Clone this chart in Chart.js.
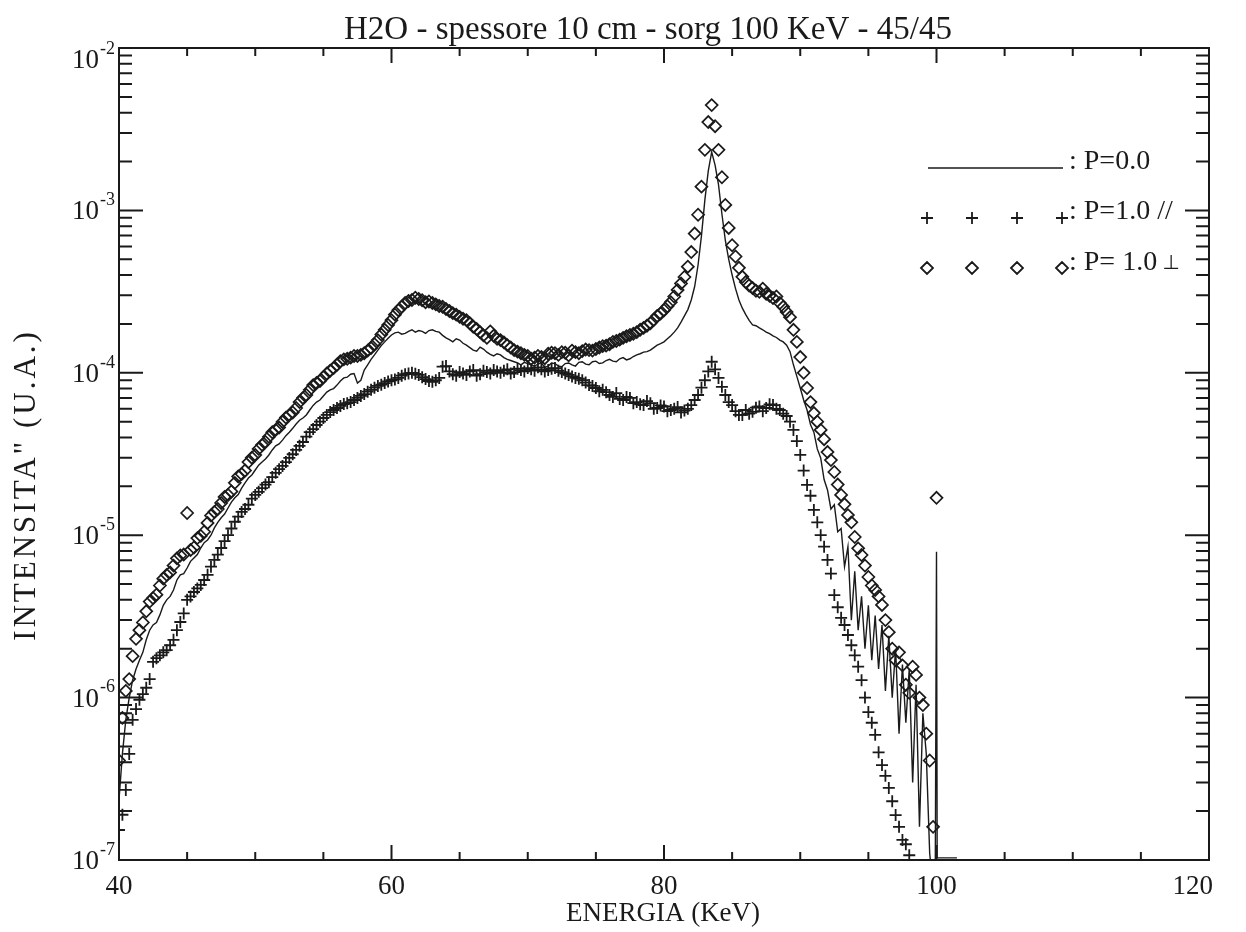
<!DOCTYPE html>
<html><head><meta charset="utf-8">
<script src="https://cdn.jsdelivr.net/npm/chart.js@4/dist/chart.umd.min.js"></script>
<style>html,body{margin:0;padding:0;background:#fff;}#wrap{width:1246px;height:932px;position:relative;}</style>
</head><body><div id="wrap"><canvas id="c" width="1246" height="932"></canvas></div>
<script>
// ---- DATA (energy in KeV, intensity in U.A.) ----
const energies = [
40,40.25,40.5,40.75,41,41.25,41.5,41.75,42,42.25,42.5,42.75,43,43.25,43.5,43.75,44,44.25,44.5,44.75,
45,45.25,45.5,45.75,46,46.25,46.5,46.75,47,47.25,47.5,47.75,48,48.25,48.5,48.75,49,49.25,49.5,49.75,
50,50.25,50.5,50.75,51,51.25,51.5,51.75,52,52.25,52.5,52.75,53,53.25,53.5,53.75,54,54.25,54.5,54.75,
55,55.25,55.5,55.75,56,56.25,56.5,56.75,57,57.25,57.5,57.75,58,58.25,58.5,58.75,59,59.25,59.5,59.75,
60,60.25,60.5,60.75,61,61.25,61.5,61.75,62,62.25,62.5,62.75,63,63.25,63.5,63.75,64,64.25,64.5,64.75,
65,65.25,65.5,65.75,66,66.25,66.5,66.75,67,67.25,67.5,67.75,68,68.25,68.5,68.75,69,69.25,69.5,69.75,
70,70.25,70.5,70.75,71,71.25,71.5,71.75,72,72.25,72.5,72.75,73,73.25,73.5,73.75,74,74.25,74.5,74.75,
75,75.25,75.5,75.75,76,76.25,76.5,76.75,77,77.25,77.5,77.75,78,78.25,78.5,78.75,79,79.25,79.5,79.75,
80,80.25,80.5,80.75,81,81.25,81.5,81.75,82,82.25,82.5,82.75,83,83.25,83.5,83.75,84,84.25,84.5,84.75,
85,85.25,85.5,85.75,86,86.25,86.5,86.75,87,87.25,87.5,87.75,88,88.25,88.5,88.75,89,89.25,89.5,89.75,
90,90.25,90.5,90.75,91,91.25,91.5,91.75,92,92.25,92.5,92.75,93,93.25,93.5,93.75,94,94.25,94.5,94.75,
95,95.25,95.5,95.75,96,96.25,96.5,96.75,97,97.25,97.5,97.75,98,98.25,98.5,98.75,99,99.25,99.5,99.75,
100];

// P=1.0 perpendicular (diamonds)
const intensityPerp = [
4.1e-7,7.5e-7,1.1e-6,1.3e-6,1.8e-6,2.3e-6,2.6e-6,2.9e-6,3.4e-6,3.9e-6,4.1e-6,4.3e-6,4.9e-6,5.4e-6,5.7e-6,5.9e-6,6.5e-6,7.2e-6,7.5e-6,7.6e-6,
1.37e-5,8.1e-6,8.4e-6,9.6e-6,9.9e-6,1.05e-5,1.19e-5,1.32e-5,1.39e-5,1.45e-5,1.58e-5,1.72e-5,1.77e-5,1.86e-5,2.1e-5,2.3e-5,2.38e-5,2.5e-5,2.82e-5,3.0e-5,
3.12e-5,3.4e-5,3.6e-5,3.75e-5,4.03e-5,4.3e-5,4.45e-5,4.6e-5,4.98e-5,5.3e-5,5.5e-5,5.7e-5,6.07e-5,6.6e-5,7.0e-5,7.3e-5,7.85e-5,8.4e-5,8.65e-5,8.9e-5,
9.4e-5,9.9e-5,1.03e-4,1.07e-4,1.12e-4,1.18e-4,1.21e-4,1.22e-4,1.24e-4,1.27e-4,1.27e-4,1.29e-4,1.32e-4,1.37e-4,1.42e-4,1.50e-4,1.59e-4,1.72e-4,1.84e-4,1.97e-4,
2.11e-4,2.28e-4,2.43e-4,2.55e-4,2.69e-4,2.77e-4,2.81e-4,2.90e-4,2.85e-4,2.80e-4,2.72e-4,2.75e-4,2.69e-4,2.64e-4,2.58e-4,2.55e-4,2.47e-4,2.40e-4,2.33e-4,2.28e-4,
2.21e-4,2.15e-4,2.11e-4,2.02e-4,1.92e-4,1.86e-4,1.78e-4,1.70e-4,1.64e-4,1.80e-4,1.69e-4,1.62e-4,1.59e-4,1.54e-4,1.48e-4,1.43e-4,1.38e-4,1.35e-4,1.32e-4,1.29e-4,
1.27e-4,1.22e-4,1.24e-4,1.27e-4,1.25e-4,1.23e-4,1.31e-4,1.33e-4,1.32e-4,1.29e-4,1.34e-4,1.33e-4,1.28e-4,1.37e-4,1.34e-4,1.32e-4,1.36e-4,1.39e-4,1.38e-4,1.37e-4,
1.40e-4,1.43e-4,1.46e-4,1.47e-4,1.50e-4,1.55e-4,1.57e-4,1.60e-4,1.64e-4,1.68e-4,1.71e-4,1.74e-4,1.78e-4,1.84e-4,1.89e-4,1.95e-4,2.02e-4,2.12e-4,2.24e-4,2.32e-4,
2.43e-4,2.57e-4,2.72e-4,2.95e-4,3.24e-4,3.55e-4,3.89e-4,4.5e-4,5.54e-4,7.2e-4,9.4e-4,1.4e-3,2.36e-3,3.5e-3,4.45e-3,3.3e-3,2.36e-3,1.6e-3,1.08e-3,7.8e-4,
6.1e-4,5.2e-4,4.43e-4,3.9e-4,3.62e-4,3.45e-4,3.33e-4,3.2e-4,3.15e-4,3.3e-4,3.06e-4,2.98e-4,2.89e-4,2.95e-4,2.69e-4,2.55e-4,2.37e-4,2.2e-4,1.84e-4,1.55e-4,
1.25e-4,1.0e-4,8.06e-5,6.6e-5,5.65e-5,5.0e-5,4.45e-5,3.9e-5,3.25e-5,2.9e-5,2.45e-5,2.05e-5,1.77e-5,1.55e-5,1.33e-5,1.2e-5,9.75e-6,8.3e-6,7.55e-6,6.5e-6,
5.53e-6,4.9e-6,4.6e-6,4.2e-6,3.72e-6,3.0e-6,2.53e-6,2.0e-6,1.70e-6,1.9e-6,1.58e-6,1.2e-6,1.07e-6,1.55e-6,1.38e-6,1.0e-6,9.0e-7,6.0e-7,4.1e-7,1.6e-7,
1.70e-5];

// P=1.0 parallel (pluses)
const intensityPar = [
1.53e-7,1.9e-7,2.7e-7,4.5e-7,7.3e-7,8.5e-7,9.7e-7,1.05e-6,1.15e-6,1.3e-6,1.66e-6,1.75e-6,1.82e-6,1.9e-6,1.96e-6,2.1e-6,2.27e-6,2.6e-6,2.92e-6,3.3e-6,
4.0e-6,4.2e-6,4.47e-6,4.7e-6,4.94e-6,5.3e-6,5.7e-6,6.4e-6,7.04e-6,7.6e-6,8.34e-6,9.2e-6,1.0e-5,1.1e-5,1.21e-5,1.3e-5,1.39e-5,1.45e-5,1.54e-5,1.68e-5,
1.77e-5,1.85e-5,1.95e-5,2.05e-5,2.12e-5,2.28e-5,2.42e-5,2.55e-5,2.67e-5,2.82e-5,2.99e-5,3.15e-5,3.35e-5,3.55e-5,3.75e-5,4.05e-5,4.31e-5,4.5e-5,4.77e-5,5.0e-5,
5.27e-5,5.5e-5,5.73e-5,5.9e-5,6.07e-5,6.25e-5,6.42e-5,6.5e-5,6.6e-5,6.8e-5,7.0e-5,7.2e-5,7.4e-5,7.65e-5,7.85e-5,8.1e-5,8.3e-5,8.45e-5,8.65e-5,8.85e-5,
9.0e-5,9.1e-5,9.3e-5,9.6e-5,9.8e-5,9.9e-5,1.0e-4,9.85e-5,9.7e-5,9.4e-5,9.15e-5,8.9e-5,8.8e-5,9.0e-5,9.3e-5,1.09e-4,1.10e-4,1.02e-4,9.8e-5,9.6e-5,
1.01e-4,9.9e-5,9.7e-5,1.02e-4,1.04e-4,9.6e-5,9.8e-5,1.03e-4,1.01e-4,9.9e-5,1.04e-4,1.02e-4,1.0e-4,1.03e-4,1.05e-4,9.9e-5,1.01e-4,1.06e-4,1.04e-4,1.02e-4,
1.07e-4,1.05e-4,1.03e-4,1.08e-4,1.05e-4,1.02e-4,1.04e-4,1.06e-4,1.07e-4,1.03e-4,1.01e-4,9.9e-5,9.7e-5,9.5e-5,9.3e-5,9.2e-5,9.0e-5,8.7e-5,8.4e-5,8.3e-5,
8.06e-5,7.7e-5,7.85e-5,7.6e-5,7.3e-5,7.1e-5,7.5e-5,6.9e-5,6.8e-5,7.1e-5,7.0e-5,6.5e-5,6.6e-5,6.4e-5,6.33e-5,6.7e-5,6.5e-5,6.0e-5,6.07e-5,6.3e-5,
6.2e-5,5.8e-5,5.9e-5,6.0e-5,6.15e-5,5.7e-5,5.85e-5,6.0e-5,6.33e-5,6.8e-5,7.3e-5,8.1e-5,9.0e-5,1.02e-4,1.17e-4,1.05e-4,9.3e-5,8.2e-5,7.3e-5,6.6e-5,
6.33e-5,5.8e-5,5.5e-5,5.5e-5,5.9e-5,5.6e-5,5.75e-5,6.1e-5,6.2e-5,5.8e-5,6.07e-5,6.4e-5,6.33e-5,6.0e-5,5.9e-5,5.6e-5,5.42e-5,5.0e-5,4.45e-5,3.8e-5,
3.12e-5,2.5e-5,2.04e-5,1.75e-5,1.43e-5,1.2e-5,1.0e-5,8.5e-6,7.04e-6,5.8e-6,4.28e-6,3.6e-6,3.1e-6,2.8e-6,2.43e-6,2.1e-6,1.82e-6,1.55e-6,1.28e-6,1.0e-6,
8.15e-7,7.0e-7,5.9e-7,4.6e-7,3.84e-7,3.3e-7,2.78e-7,2.3e-7,1.89e-7,1.6e-7,1.33e-7,1.25e-7,1.07e-7,null,null,null,null,null,null,null,
null];

// P=0.0 (solid line)
const intensityP0 = [
2.35e-7,4.5e-7,7.3e-7,1.0e-6,1.28e-6,1.5e-6,1.70e-6,1.9e-6,2.27e-6,2.6e-6,2.8e-6,2.9e-6,3.23e-6,3.7e-6,4.0e-6,4.2e-6,4.6e-6,5.3e-6,5.7e-6,5.8e-6,
6.28e-6,6.9e-6,7.24e-6,7.6e-6,8.34e-6,9.0e-6,9.34e-6,1.0e-5,1.11e-5,1.2e-5,1.28e-5,1.35e-5,1.47e-5,1.6e-5,1.70e-5,1.78e-5,1.95e-5,2.1e-5,2.25e-5,2.35e-5,
2.52e-5,2.7e-5,2.82e-5,2.95e-5,3.12e-5,3.35e-5,3.55e-5,3.65e-5,3.85e-5,4.1e-5,4.31e-5,4.55e-5,4.84e-5,5.1e-5,5.27e-5,5.5e-5,5.9e-5,6.3e-5,6.6e-5,6.8e-5,
7.2e-5,7.6e-5,7.85e-5,8.0e-5,8.4e-5,8.9e-5,9.3e-5,9.4e-5,9.8e-5,9.9e-5,8.65e-5,9.0e-5,1.04e-4,1.12e-4,1.21e-4,1.29e-4,1.38e-4,1.47e-4,1.55e-4,1.63e-4,
1.71e-4,1.76e-4,1.78e-4,1.73e-4,1.75e-4,1.80e-4,1.84e-4,1.78e-4,1.82e-4,1.80e-4,1.75e-4,1.82e-4,1.84e-4,1.80e-4,1.78e-4,1.70e-4,1.64e-4,1.60e-4,1.55e-4,1.62e-4,
1.59e-4,1.52e-4,1.48e-4,1.43e-4,1.38e-4,1.36e-4,1.44e-4,1.40e-4,1.34e-4,1.30e-4,1.27e-4,1.31e-4,1.29e-4,1.24e-4,1.21e-4,1.19e-4,1.17e-4,1.15e-4,1.12e-4,1.16e-4,
1.14e-4,1.12e-4,1.10e-4,1.13e-4,1.15e-4,1.08e-4,1.10e-4,1.15e-4,1.14e-4,1.10e-4,1.09e-4,1.14e-4,1.15e-4,1.12e-4,1.10e-4,1.16e-4,1.17e-4,1.13e-4,1.12e-4,1.17e-4,
1.18e-4,1.14e-4,1.15e-4,1.19e-4,1.21e-4,1.18e-4,1.17e-4,1.22e-4,1.24e-4,1.20e-4,1.22e-4,1.26e-4,1.29e-4,1.31e-4,1.34e-4,1.35e-4,1.38e-4,1.43e-4,1.48e-4,1.51e-4,
1.55e-4,1.62e-4,1.69e-4,1.78e-4,1.89e-4,2.05e-4,2.24e-4,2.45e-4,2.81e-4,3.4e-4,4.61e-4,7.0e-4,1.16e-3,1.75e-3,2.29e-3,1.9e-3,1.44e-3,9.5e-4,6.57e-4,5.0e-4,
4.0e-4,3.3e-4,2.81e-4,2.5e-4,2.28e-4,2.1e-4,1.97e-4,1.95e-4,1.89e-4,1.84e-4,1.78e-4,1.74e-4,1.69e-4,1.65e-4,1.59e-4,1.55e-4,1.48e-4,1.35e-4,1.12e-4,9.5e-5,
8.06e-5,6.8e-5,5.9e-5,4.8e-5,4.31e-5,3.4e-5,2.99e-5,2.2e-5,1.9e-5,1.45e-5,1.54e-5,1.05e-5,1.1e-5,6.4e-6,8.5e-6,3.0e-6,6.0e-6,2.6e-6,4.2e-6,2.0e-6,
3.7e-6,1.7e-6,3.2e-6,1.5e-6,2.8e-6,1.1e-6,2.4e-6,1.0e-6,2.0e-6,6.0e-7,1.6e-6,7.0e-7,1.5e-6,3.0e-7,1.2e-6,1.6e-7,8.0e-7,4.5e-7,1.1e-7,null,
null];
// source line at 100 KeV for P=0.0
const tailEnergies = [99.9, 100.0, 100.05, 101.5];
const tailP0 = [5e-8, 7.9e-6, 1.03e-7, 1.03e-7];

const xMajorTicks = [40, 60, 80, 100, 120];
const xMinorTicks = [45, 50, 55, 65, 70, 75, 85, 90, 95, 105, 110, 115];
const yDecades = [1e-7, 1e-6, 1e-5, 1e-4, 1e-3, 1e-2];
const yDecadeExp = ['-7', '-6', '-5', '-4', '-3', '-2'];
const titleText = 'H2O - spessore 10 cm - sorg 100 KeV - 45/45';
const xTitle = 'ENERGIA (KeV)';
const yTitle = 'INTENSITA" (U.A.)';
const legendLabels = [': P=0.0', ': P=1.0 //', ': P= 1.0 '];
const perpSymbol = '\u22A5';

// ---- CHART ----
const SERIF = '"Liberation Serif", "DejaVu Serif", serif';
const INK = '#1a1a1a';
const pts = (xs, ys) => xs.map((x, i) => ({x: x, y: ys[i]}));
const lineData = pts(energies, intensityP0).filter(p => p.y !== null).concat(pts(tailEnergies, tailP0));

const decor = {
  id: 'decor',
  afterDraw(chart) {
    const ctx = chart.ctx, a = chart.chartArea;
    const xs = chart.scales.x, ys = chart.scales.y;
    ctx.save();
    ctx.strokeStyle = INK; ctx.fillStyle = INK; ctx.lineWidth = 2;
    ctx.strokeRect(a.left, a.top, a.right - a.left, a.bottom - a.top);
    ctx.beginPath();
    xMajorTicks.forEach(v => { const p = xs.getPixelForValue(v);
      ctx.moveTo(p, a.bottom); ctx.lineTo(p, a.bottom - 15);
      ctx.moveTo(p, a.top); ctx.lineTo(p, a.top + 15); });
    xMinorTicks.forEach(v => { const p = xs.getPixelForValue(v);
      ctx.moveTo(p, a.bottom); ctx.lineTo(p, a.bottom - 8);
      ctx.moveTo(p, a.top); ctx.lineTo(p, a.top + 8); });
    yDecades.forEach((d, i) => { const p = ys.getPixelForValue(d);
      ctx.moveTo(a.left, p); ctx.lineTo(a.left + 24, p);
      ctx.moveTo(a.right, p); ctx.lineTo(a.right - 24, p);
      if (i < yDecades.length - 1) {
        for (let m = 2; m <= 9; m++) { const q = ys.getPixelForValue(m * d);
          ctx.moveTo(a.left, q); ctx.lineTo(a.left + 13, q);
          ctx.moveTo(a.right, q); ctx.lineTo(a.right - 13, q); }
      } });
    ctx.stroke();

    // x tick labels
    ctx.font = '27px ' + SERIF; ctx.textBaseline = 'alphabetic';
    xMajorTicks.forEach((v, i) => { const p = xs.getPixelForValue(v);
      if (i === xMajorTicks.length - 1) { ctx.textAlign = 'right'; ctx.fillText(String(v), p + 4, 894); }
      else { ctx.textAlign = 'center'; ctx.fillText(String(v), p, 894); } });
    // y tick labels 10^n
    yDecades.forEach((d, i) => { let p = ys.getPixelForValue(d);
      if (i === yDecades.length - 1) p += 11;
      ctx.font = '18px ' + SERIF; const sw = ctx.measureText(yDecadeExp[i]).width;
      ctx.textAlign = 'left'; ctx.textBaseline = 'middle';
      ctx.fillText(yDecadeExp[i], 115 - sw, p - 10);
      ctx.font = '27px ' + SERIF; ctx.textAlign = 'right';
      ctx.fillText('10', 115 - sw - 1, p + 2); });

    // title & axis titles
    ctx.textBaseline = 'alphabetic'; ctx.textAlign = 'center';
    ctx.font = '33px ' + SERIF; ctx.fillText(titleText, 648, 39);
    ctx.font = '27px ' + SERIF; ctx.fillText(xTitle, 663, 921);
    ctx.save(); ctx.translate(35, 485); ctx.rotate(-Math.PI / 2);
    ctx.font = '31px ' + SERIF; try { ctx.letterSpacing = '3px'; } catch (e) {}
    ctx.fillText(yTitle, 0, 0); ctx.restore();

    // legend
    ctx.lineWidth = 1.6; ctx.beginPath();
    ctx.moveTo(928, 168); ctx.lineTo(1063, 168); ctx.stroke();
    const lx = [927, 972, 1017, 1062];
    ctx.lineWidth = 1.8; ctx.beginPath();
    lx.forEach(x => { ctx.moveTo(x - 6, 218); ctx.lineTo(x + 6, 218); ctx.moveTo(x, 212); ctx.lineTo(x, 224); });
    ctx.stroke();
    ctx.beginPath();
    lx.forEach(x => { ctx.moveTo(x - 6, 268); ctx.lineTo(x, 262); ctx.lineTo(x + 6, 268); ctx.lineTo(x, 274); ctx.closePath(); });
    ctx.stroke();
    ctx.font = '28px ' + SERIF; ctx.textAlign = 'left';
    ctx.fillText(legendLabels[0], 1069, 169);
    ctx.fillText(legendLabels[1], 1069, 219);
    ctx.fillText(legendLabels[2], 1069, 270);
    const w3 = ctx.measureText(legendLabels[2]).width;
    ctx.font = '20px "DejaVu Sans", sans-serif';
    ctx.fillText(perpSymbol, 1069 + w3 - 2, 269);
    ctx.restore();
  }
};

new Chart(document.getElementById('c'), {
  type: 'line',
  data: { datasets: [
    { label: 'P=0.0', data: lineData, borderColor: INK, borderWidth: 1.4, pointRadius: 0, tension: 0, fill: false },
    { label: 'P=1.0 //', data: pts(energies, intensityPar), showLine: false, pointStyle: 'cross', pointRadius: 6,
      borderColor: INK, borderWidth: 1.8, backgroundColor: 'rgba(0,0,0,0)' },
    { label: 'P=1.0 perp', data: pts(energies, intensityPerp), showLine: false, pointStyle: 'rectRot', pointRadius: 6,
      borderColor: INK, borderWidth: 1.7, backgroundColor: 'rgba(0,0,0,0)' }
  ]},
  options: {
    responsive: false, animation: false, devicePixelRatio: 1,
    layout: { padding: { left: 119, right: 37, top: 48, bottom: 72 } },
    scales: {
      x: { type: 'linear', min: 40, max: 120, display: false },
      y: { type: 'logarithmic', min: 1e-7, max: 1e-2, display: false }
    },
    plugins: { legend: { display: false }, tooltip: { enabled: false } },
    elements: { point: { hoverRadius: 0 } }
  },
  plugins: [decor]
});
</script></body></html>
